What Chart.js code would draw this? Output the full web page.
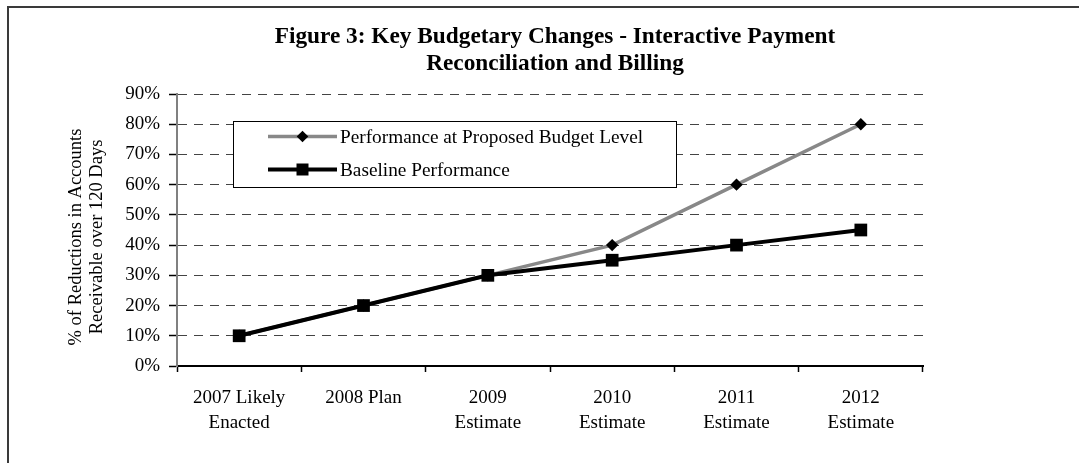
<!DOCTYPE html>
<html><head><meta charset="utf-8">
<script src="https://cdn.jsdelivr.net/npm/chart.js@4.4.0/dist/chart.umd.min.js"></script>
<style>html,body{margin:0;padding:0;background:#fff;overflow:hidden}#wrap{position:relative;width:1079px;height:463px}</style>
</head><body><div id="wrap"><canvas id="c" width="1079" height="463"></canvas></div>
<script>
const categories = [['2007 Likely','Enacted'],['2008 Plan'],['2009','Estimate'],['2010','Estimate'],['2011','Estimate'],['2012','Estimate']];
const proposedValues = [10, 20, 30, 40, 60, 80];
const baselineValues = [10, 20, 30, 35, 40, 45];
const yTickLabels = ['0%','10%','20%','30%','40%','50%','60%','70%','80%','90%'];
const seriesNames = ['Performance at Proposed Budget Level', 'Baseline Performance'];
const titleLines = ['Figure 3: Key Budgetary Changes - Interactive Payment', 'Reconciliation and Billing'];
const yTitleLines = ['% of Reductions in Accounts', 'Receivable over 120 Days'];

const FAM = "'Liberation Serif', 'Times New Roman', serif";

const decor = {
  id: 'decor',
  beforeDraw(chart) {
    const ctx = chart.ctx;
    ctx.save();
    ctx.fillStyle = '#fff';
    ctx.fillRect(0, 0, chart.width, chart.height);
    ctx.fillStyle = '#3a3a3a';
    ctx.fillRect(7, 6, chart.width - 7, 2);
    ctx.fillRect(7, 6, 2, chart.height - 6);
    ctx.restore();
  },
  afterDraw(chart) {
    const ctx = chart.ctx;
    ctx.save();
    // title
    ctx.fillStyle = '#000';
    ctx.font = 'bold 23.3px ' + FAM;
    ctx.textAlign = 'center';
    ctx.textBaseline = 'alphabetic';
    const cx = 555;
    titleLines.forEach((t, i) => ctx.fillText(t, cx, 43 + i * 27));
    // y axis title
    ctx.font = '18.5px ' + FAM;
    ctx.textBaseline = 'middle';
    const cy = 237;
    yTitleLines.forEach((t, i) => {
      ctx.save();
      ctx.translate(76 + i * 21, cy);
      ctx.rotate(-Math.PI / 2);
      ctx.fillText(t, 0, 0);
      ctx.restore();
    });
    // legend
    const bx = 233.5, by = 121.5, bw = 443, bh = 66;
    ctx.fillStyle = '#fff';
    ctx.fillRect(bx, by, bw, bh);
    ctx.strokeStyle = '#000';
    ctx.lineWidth = 1;
    ctx.strokeRect(bx, by, bw, bh);
    const rows = [136.5, 169.5];
    chart.data.datasets.forEach((ds, i) => {
      const y = rows[i];
      ctx.strokeStyle = ds.borderColor;
      ctx.lineWidth = ds.borderWidth;
      ctx.beginPath();
      ctx.moveTo(268, y);
      ctx.lineTo(337, y);
      ctx.stroke();
      ctx.fillStyle = ds.pointBackgroundColor;
      const mx = 302.5;
      ctx.beginPath();
      if (ds.pointStyle === 'rectRot') {
        const r = 5.8;
        ctx.moveTo(mx - r, y); ctx.lineTo(mx, y - r); ctx.lineTo(mx + r, y); ctx.lineTo(mx, y + r);
        ctx.closePath();
      } else {
        const s = 6;
        ctx.rect(mx - s, y - s, 2 * s, 2 * s);
      }
      ctx.fill();
      ctx.fillStyle = '#000';
      ctx.font = '19.3px ' + FAM;
      ctx.textAlign = 'left';
      ctx.textBaseline = 'alphabetic';
      ctx.fillText(ds.label, 340, y + 6.5);
    });
    ctx.restore();
  }
};

new Chart(document.getElementById('c'), {
  type: 'line',
  data: {
    labels: categories,
    datasets: [
      {
        label: seriesNames[0],
        data: proposedValues,
        borderColor: '#888888',
        borderWidth: 3.5,
        pointStyle: 'rectRot',
        pointRadius: 6.2,
        pointBackgroundColor: '#000',
        pointBorderWidth: 0,
        tension: 0,
        order: 1
      },
      {
        label: seriesNames[1],
        data: baselineValues,
        borderColor: '#000000',
        borderWidth: 4,
        pointStyle: 'rect',
        pointRadius: 9,
        pointBackgroundColor: '#000',
        pointBorderWidth: 0,
        tension: 0,
        order: 0
      }
    ]
  },
  options: {
    responsive: false,
    animation: false,
    devicePixelRatio: 1,
    layout: { padding: { top: 94, right: 156, left: 0, bottom: 0 } },
    plugins: { legend: { display: false }, title: { display: false }, tooltip: { enabled: false } },
    scales: {
      x: {
        offset: true,
        grid: { offset: true, drawOnChartArea: false, drawTicks: true, tickLength: 6, tickColor: '#000', tickWidth: 1.5 },
        border: { color: '#000', width: 2 },
        ticks: { font: { family: FAM, size: 19, lineHeight: 1.3 }, color: '#000', padding: 14, maxRotation: 0, autoSkip: false },
        afterFit(s) { s.height = 97; }
      },
      y: {
        min: 0, max: 90,
        ticks: { stepSize: 10, callback: (v, i) => yTickLabels[i], font: { family: FAM, size: 19 }, color: '#000', padding: 9 },
        grid: { color: (c) => (c.tick && c.tick.value === 0) ? 'rgba(0,0,0,0)' : '#444', lineWidth: 1, tickLength: 8, tickColor: '#000', tickWidth: 1.5 },
        border: { color: '#808080', width: 2, dash: [9, 7] },
        afterFit(s) { s.width = 177; }
      }
    }
  },
  plugins: [decor]
});
</script></body></html>
